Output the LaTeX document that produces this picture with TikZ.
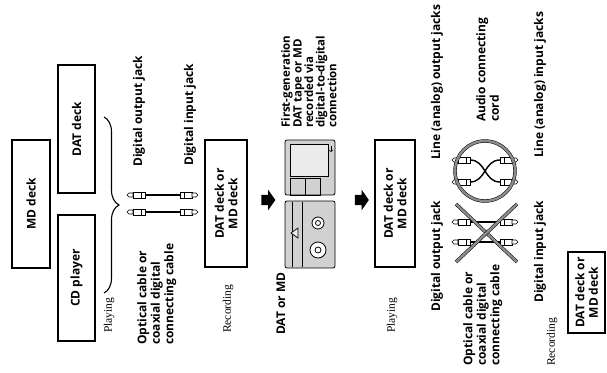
\documentclass[tikz,border=0pt]{standalone}
\usepackage{fontspec}
\setmainfont{Liberation Serif}
\newfontfamily\labelfont{Open Sans}
\usetikzlibrary{decorations.pathreplacing,shapes.arrows}
\begin{document}
\begin{tikzpicture}[x=1pt,y=-1pt,
  unit/.style={draw, line width=1.1pt, rotate=90, inner sep=1pt,
    font=\labelfont\bfseries\fontsize{12}{13.5}\selectfont, align=center},
  lab/.style={rotate=90, inner sep=0pt,
    font=\labelfont\bfseries\fontsize{12}{13.5}\selectfont, align=left},
  mode/.style={rotate=90, inner sep=0pt, anchor=west,
    font=\fontsize{11.5}{13}\selectfont},
  blockarrow/.style={single arrow, fill=black, draw=none, inner sep=5pt,
    minimum height=14pt, minimum width=20pt, single arrow head extend=5pt,
    single arrow tip angle=110},
  wire/.style={line width=1.4pt},
  cross/.style={line width=0.5pt, double=black!45, double distance=2.4pt},
  media/.style={draw, line width=0.8pt, fill=black!18, rounded corners=2pt},
  plug/.pic={
    \draw[fill=white, line width=0.6pt] (-18,-2.8) rectangle (-6,2.8);
    \draw[line width=0.5pt] (-14,-2.8) -- (-14,2.8);
    \draw[fill=white, line width=0.6pt] (-6,-2) -- (-2,-2) -- (0,0) -- (-2,2) -- (-6,2) -- cycle;
  },
]
\useasboundingbox (0,0) rectangle (607,372);

% ---------- playing sources ----------
\node[unit, minimum width=128pt, minimum height=38pt] (md) at (31,204) {MD deck};
\node[unit, minimum width=128pt, minimum height=37pt] (dat) at (76.5,129) {DAT deck};
\node[unit, minimum width=126pt, minimum height=37pt] (cd) at (76.5,278) {CD player};
\draw[decorate, decoration={brace, amplitude=15pt}, line width=1.1pt] (104,117) -- (104,293);
\node[mode] (play1) at (109,333) {Playing};

% digital cables
\node[lab, anchor=west] (dout1) at (139,167) {Digital output jack};
\node[lab, anchor=west] (din1) at (190,166) {Digital input jack};
\foreach \y in {195,212} {
  \pic at (127,\y) [rotate=180] {plug};
  \pic at (198,\y) {plug};
  \draw[wire] (145,\y) -- (180,\y);
}
\node[lab, anchor=north west] (optA) at (137,345) {Optical cable or\\coaxial digital\\connecting cable};

% ---------- first recording ----------
\node[unit, minimum width=127pt, minimum height=42pt] (rec1) at (226,203.5) {DAT deck or\\MD deck};
\node[mode] (recl1) at (228,333) {Recording};
\node[blockarrow] (arr1) at (266.5,200) {};

% MD disc
\draw[media] (285,140) rectangle (335,195);
\draw[line width=0.7pt, fill=black!8] (290,144) rectangle (328,176);
\draw[line width=0.7pt] (290,178) rectangle (320,195);
\draw[line width=0.7pt] (305,178) -- (305,195);
\draw[line width=0.6pt, ->] (331,146) -- (331,152);
% DAT cassette
\draw[media] (285,201) rectangle (335,268);
\draw[line width=0.7pt] (292,202) -- (292,267);
\draw[line width=0.7pt] (302,202) -- (302,267);
\draw[line width=0.7pt, fill=black!8] (298,228) -- (291,233) -- (298,238) -- cycle;
\draw[line width=0.8pt, fill=white] (318,223) circle (6);
\draw[line width=0.8pt] (318,223) circle (2.5);
\draw[line width=0.8pt, fill=white] (318,250) circle (8);
\draw[line width=0.8pt] (318,250) circle (3);
\node[lab, anchor=west] (media) at (281,335) {DAT or MD};
\node[lab, anchor=north west, font=\labelfont\bfseries\fontsize{11.5}{11.6}\selectfont] (firstgen) at (281,128)
  {First-generation\\DAT tape or MD\\recorded via\\digital-to-digital\\connection};
\node[blockarrow] (arr2) at (360,200) {};

% ---------- playback of the copy ----------
\node[unit, minimum width=127pt, minimum height=40pt] (play2box) at (395,203.5) {DAT deck or\\MD deck};
\node[mode] (play2) at (392,333) {Playing};

\node[lab, anchor=west] (lout) at (437,160) {Line (analog) output jacks};
\node[lab, anchor=west] (dout2) at (437,312) {Digital output jack};

% audio cord inside a circle
\foreach \y in {160,182} {
  \pic at (452,\y) [rotate=180] {plug};
  \pic at (518,\y) {plug};
}
\draw[wire] (470,160) .. controls (486,160) and (484,182) .. (500,182);
\draw[wire] (470,182) .. controls (486,182) and (484,160) .. (500,160);
\draw[cross] (485,171) circle (30);

% crossed-out digital cable
\foreach \y in {222,242} {
  \pic at (452,\y) [rotate=180] {plug};
  \pic at (518,\y) {plug};
  \draw[wire] (470,\y) -- (500,\y);
}
\draw[cross] (456,204) -- (517,262);
\draw[cross] (456,262) -- (517,204);

\node[lab, anchor=north west] (audio) at (476,122) {Audio connecting\\cord};
\node[lab, anchor=north west] (optB) at (463,366) {Optical cable or\\coaxial digital\\connecting cable};
\node[lab, anchor=west] (din2) at (540,303) {Digital input jack};
\node[lab, anchor=west] (lin) at (540,158) {Line (analog) input jacks};

% ---------- second recording ----------
\node[unit, minimum width=81pt, minimum height=37pt] (rec2) at (586.5,292.5) {DAT deck or\\MD deck};
\node[mode] (recl2) at (552,366) {Recording};
\end{tikzpicture}
\end{document}
